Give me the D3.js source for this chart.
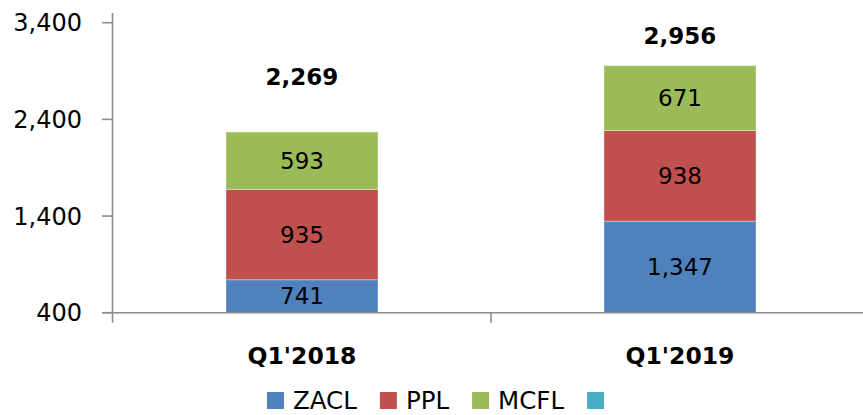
<!DOCTYPE html>
<html>
<head>
<meta charset="utf-8">
<script src="https://cdn.jsdelivr.net/npm/d3@7"></script>
<style>
  body { margin: 0; background: #fff; }
  text { font-family: "DejaVu Sans", sans-serif; fill: #000; }
</style>
</head>
<body>
<div id="container"></div>
<script>
// data
var quarters = ["Q1'2018", "Q1'2019"]
var seriesNames = ["ZACL", "PPL", "MCFL", ""]
var zacl = [741, 1347]
var ppl = [935, 938]
var mcfl = [593, 671]
var totals = [2269, 2956]
var totalLabelAt = [2840, 3270]   // height (in axis units) where the total label sits
var yTicks = [400, 1400, 2400, 3400]
var colors = ["#4F81BD", "#C0504D", "#9BBB59", "#4BACC6"]

let width = 863, height = 415

var svg = d3.select('#container').append('svg')
  .attr('width', width)
  .attr('height', height)

var x = d3.scaleBand()
  .domain(quarters)
  .range([113, 869])
  .paddingInner(0)
  .paddingOuter(0)

var y = d3.scaleLinear()
  .domain([400, 3400])
  .range([312.7, 22.7])
  .clamp(true)

var barWidth = 152

// stack the three series
var rows = quarters.map(function(q, i){
  return {q: q, ZACL: zacl[i], PPL: ppl[i], MCFL: mcfl[i]}
})
var stacked = d3.stack().keys(["ZACL", "PPL", "MCFL"])(rows)

var bars = svg.append('g')
stacked.forEach(function(layer, li){
  var g = bars.append('g')
  g.selectAll('rect')
    .data(layer)
    .enter()
    .append('rect')
    .attr('x', d => x(d.data.q) + (x.bandwidth() - barWidth) / 2)
    .attr('width', barWidth)
    .attr('y', d => y(d[1]))
    .attr('height', d => y(d[0]) - y(d[1]))
    .attr('fill', colors[li])
    .attr('stroke', '#ffffff')
    .attr('stroke-opacity', 0.35)
    .attr('stroke-width', 1)

  g.selectAll('text')
    .data(layer)
    .enter()
    .append('text')
    .attr('x', d => x(d.data.q) + x.bandwidth() / 2)
    .attr('y', d => (y(d[0]) + y(d[1])) / 2)
    .attr('dy', '0.36em')
    .attr('text-anchor', 'middle')
    .style('font-size', '23px')
    .text(d => d3.format(",")(d[1] - d[0]))
})

// total labels above the bars
svg.append('g').selectAll('text')
  .data(totals)
  .enter()
  .append('text')
  .attr('x', (d, i) => x(quarters[i]) + x.bandwidth() / 2)
  .attr('y', (d, i) => y(totalLabelAt[i]))
  .attr('dy', '0.36em')
  .attr('text-anchor', 'middle')
  .style('font-size', '23px')
  .style('font-weight', 'bold')
  .text(d => d3.format(",")(d))

// axes
var axisColor = '#8c8c8c'
var axes = svg.append('g').attr('stroke', axisColor).attr('stroke-width', 1.6)

axes.append('line')
  .attr('x1', 112.5).attr('x2', 112.5)
  .attr('y1', 13).attr('y2', 322.7)

axes.append('line')
  .attr('x1', 102).attr('x2', width)
  .attr('y1', y(400)).attr('y2', y(400))

axes.selectAll('.ytick')
  .data(yTicks)
  .enter()
  .append('line')
  .attr('x1', 102).attr('x2', 112.5)
  .attr('y1', d => y(d)).attr('y2', d => y(d))

// category boundary ticks
axes.selectAll('.xtick')
  .data(quarters.slice(1))
  .enter()
  .append('line')
  .attr('x1', d => x(d)).attr('x2', d => x(d))
  .attr('y1', y(400)).attr('y2', 322.7)

svg.append('g').selectAll('text')
  .data(yTicks)
  .enter()
  .append('text')
  .attr('x', 82)
  .attr('y', d => y(d))
  .attr('dy', '0.36em')
  .attr('text-anchor', 'end')
  .style('font-size', '24px')
  .text(d => d3.format(",")(d))

svg.append('g').selectAll('text')
  .data(quarters)
  .enter()
  .append('text')
  .attr('x', d => x(d) + x.bandwidth() / 2)
  .attr('y', 364)
  .attr('text-anchor', 'middle')
  .style('font-size', '23.5px')
  .style('font-weight', 'bold')
  .text(d => d)

// legend
var legend = svg.append('g').attr('transform', 'translate(267,0)')
var lx = 0
seriesNames.forEach(function(name, i){
  var item = legend.append('g').attr('transform', 'translate(' + lx + ',0)')
  item.append('rect')
    .attr('x', 0).attr('y', 392)
    .attr('width', 17).attr('height', 17)
    .attr('fill', colors[i])
  var t = item.append('text')
    .attr('x', 26).attr('y', 409)
    .style('font-size', '24.5px')
    .text(name)
  lx += 26 + t.node().getComputedTextLength() + 23
})
</script>
</body>
</html>
